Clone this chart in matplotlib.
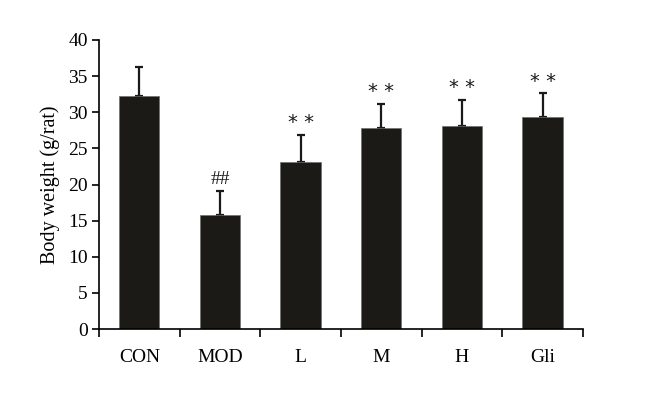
import numpy as np
import matplotlib
matplotlib.use("Agg")
from matplotlib import pyplot as plt
from matplotlib.ticker import FixedLocator

groups = ["CON", "MOD", "L", "M", "H", "Gli"]
weight = [32.3, 15.8, 23.1, 27.8, 28.1, 29.4]
sd = [3.9, 3.3, 3.75, 3.4, 3.6, 3.2]
marks = ["", "##", "* *", "* *", "* *", "* *"]

plt.rcParams['font.family'] = ['Liberation Serif', 'DejaVu Serif']

fig = plt.figure(figsize=(6.6, 3.96), dpi=100)
ax = fig.add_axes([0.15, 0.169, 0.7333, 0.73])

x = np.arange(len(groups))
ax.bar(x, weight, width=0.5, color='#1c1a17', edgecolor='#6e6e6e', linewidth=0.5, zorder=2)
ax.errorbar(x, weight, yerr=[np.zeros(len(sd)), sd], fmt='none', ecolor='#1c1a17',
            elinewidth=1.6, capsize=2.8, capthick=1.6, zorder=1)

for xi, w, s, m in zip(x, weight, sd, marks):
    if m:
        fam = ['DejaVu Sans'] if '*' in m else ['Liberation Serif']
        ax.annotate(m, (xi, w + s), xytext=(0, 2), textcoords='offset points',
                    ha='center', va='bottom', fontsize=14, color='#1c1a17', family=fam)

ax.set_xlim(-0.5, 5.5)
ax.set_ylim(0, 40)
ax.set_yticks(np.arange(0, 41, 5))
ax.set_xticks(x)
ax.set_xticklabels(groups)
ax.xaxis.set_minor_locator(FixedLocator(np.arange(-0.5, 6, 1)))
ax.tick_params(axis='x', which='major', length=0, pad=14, labelsize=14)
ax.tick_params(axis='x', which='minor', length=6, width=1.2, direction='out')
ax.tick_params(axis='y', length=5, width=1.2, direction='out', labelsize=14, pad=3)
ax.spines['top'].set_visible(False)
ax.spines['right'].set_visible(False)
ax.spines['left'].set_linewidth(1.2)
ax.spines['bottom'].set_linewidth(1.2)
ax.set_ylabel("Body weight (g/rat)", fontsize=14.5, labelpad=6)

fig.savefig("out.png", dpi=100)
